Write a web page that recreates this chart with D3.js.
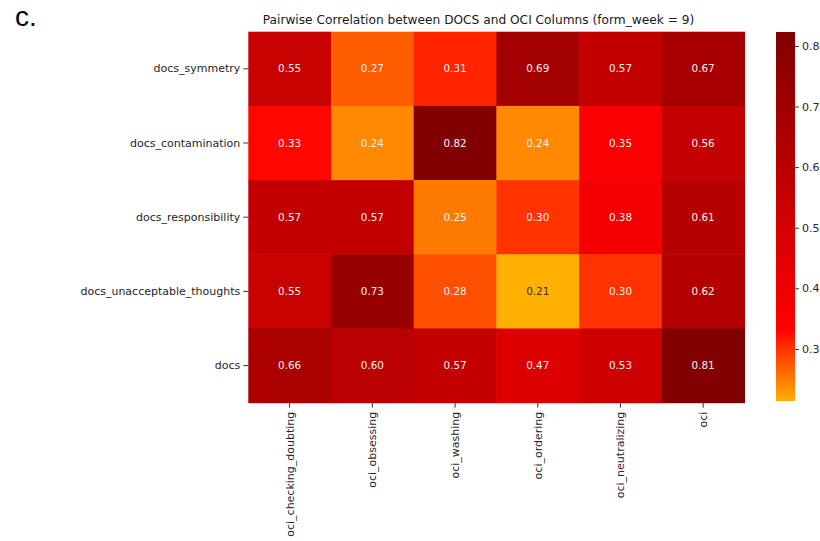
<!DOCTYPE html>
<html>
<head>
<meta charset="utf-8">
<script src="https://cdn.jsdelivr.net/npm/d3@7"></script>
<style>
html,body{margin:0;padding:0;background:#fff;}
svg{display:block;font-family:"DejaVu Sans",sans-serif;}
</style>
</head>
<body>
<svg id="chart" width="820" height="541"></svg>
<script>
const rows = ["docs_symmetry","docs_contamination","docs_responsibility","docs_unacceptable_thoughts","docs"];
const cols = ["oci_checking_doubting","oci_obsessing","oci_washing","oci_ordering","oci_neutralizing","oci"];
const valSymmetry       = [0.55,0.27,0.31,0.69,0.57,0.67];
const valContamination  = [0.33,0.24,0.82,0.24,0.35,0.56];
const valResponsibility = [0.57,0.57,0.25,0.30,0.38,0.61];
const valUnacceptable   = [0.55,0.73,0.28,0.21,0.30,0.62];
const valDocs           = [0.66,0.60,0.57,0.47,0.53,0.81];
const matrix = [valSymmetry, valContamination, valResponsibility, valUnacceptable, valDocs];
const cbTicks = [0.3,0.4,0.5,0.6,0.7,0.8];
const vmin = 0.214, vmax = 0.823;
const title = "Pairwise Correlation between DOCS and OCI Columns (form_week = 9)";

const svg = d3.select("#chart");
const L = 248.3, R = 744.5, T = 31.7, B = 402.7;

const x = d3.scaleBand().domain(cols).range([L, R]);
const y = d3.scaleBand().domain(rows).range([T, B]);
const color = d3.scaleLinear()
  .domain([0.213, 0.335, 0.823])
  .range(["#ffb000", "#ff0000", "#800000"])
  .clamp(true);

const cells = [];
matrix.forEach((r, i) => r.forEach((v, j) => cells.push({row: rows[i], col: cols[j], v})));

svg.append("g").selectAll("rect").data(cells).join("rect")
  .attr("x", d => x(d.col)).attr("y", d => y(d.row))
  .attr("width", x.bandwidth() + 0.5).attr("height", y.bandwidth() + 0.5)
  .attr("fill", d => color(d.v));

svg.append("g").selectAll("text").data(cells).join("text")
  .attr("x", d => x(d.col) + x.bandwidth()/2)
  .attr("y", d => y(d.row) + y.bandwidth()/2)
  .attr("dy", "0.35em")
  .attr("text-anchor", "middle")
  .attr("font-family", "DejaVu Sans")
  .attr("font-size", "10.4px")
  .attr("fill", d => d.v < 0.23 ? "#333333" : "#f4f0f0")
  .text(d => d3.format(".2f")(d.v));

// axes
const yAxis = svg.append("g").attr("transform", `translate(${L},0)`)
  .call(d3.axisLeft(y).tickSize(5).tickPadding(3));
yAxis.select(".domain").remove();
yAxis.selectAll("text").attr("font-size", "11px").attr("font-family", "DejaVu Sans").attr("fill", "#262626");
yAxis.selectAll("line").attr("stroke", "#333");

const xAxis = svg.append("g").attr("transform", `translate(0,${B})`)
  .call(d3.axisBottom(x).tickSize(5).tickPadding(3));
xAxis.select(".domain").remove();
xAxis.selectAll("line").attr("stroke", "#333");
xAxis.selectAll("text")
  .attr("font-size", "11px").attr("font-family", "DejaVu Sans").attr("fill", "#262626")
  .attr("text-anchor", "end")
  .attr("transform", "rotate(-90)")
  .attr("x", -9).attr("y", 0).attr("dy", "0.35em");

// title
svg.append("text").attr("x", 478.5).attr("y", 24)
  .attr("text-anchor", "middle").attr("font-family", "DejaVu Sans")
  .attr("font-size", "12.2px").attr("fill", "#1a1a1a")
  .text(title);

// panel label
svg.append("text").attr("x", 15).attr("y", 26)
  .attr("font-family", "Liberation Sans, Arial, sans-serif")
  .attr("font-size", "28px").attr("fill", "#000")
  .text("c.");

// colorbar
const cbX = 776, cbW = 19, cbT = 32, cbB = 401;
const cy = d3.scaleLinear().domain([vmin, vmax]).range([cbB, cbT]);
const defs = svg.append("defs");
const grad = defs.append("linearGradient").attr("id", "cbgrad")
  .attr("x1", 0).attr("y1", 1).attr("x2", 0).attr("y2", 0);
d3.range(0, 1.0001, 0.02).forEach(t => {
  grad.append("stop").attr("offset", t).attr("stop-color", color(vmin + t*(vmax - vmin)));
});
svg.append("rect").attr("x", cbX).attr("y", cbT).attr("width", cbW).attr("height", cbB - cbT)
  .attr("fill", "url(#cbgrad)");
const cbAxis = svg.append("g").attr("transform", `translate(${cbX + cbW},0)`)
  .call(d3.axisRight(cy).tickValues(cbTicks).tickFormat(d3.format(".1f")).tickSize(4).tickPadding(3));
cbAxis.select(".domain").remove();
cbAxis.selectAll("line").attr("stroke", "#333");
cbAxis.selectAll("text").attr("font-size", "11px").attr("font-family", "DejaVu Sans").attr("fill", "#262626");
</script>
</body>
</html>
